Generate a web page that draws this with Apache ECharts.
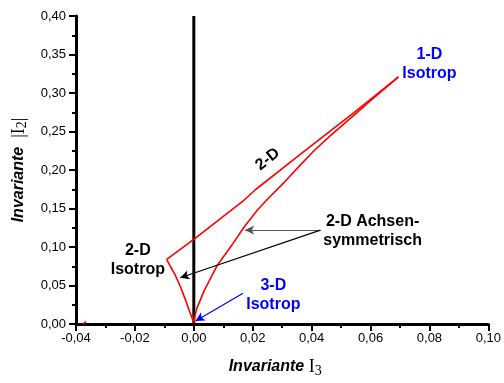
<!DOCTYPE html>
<html>
<head>
<meta charset="utf-8">
<script src="https://cdn.jsdelivr.net/npm/echarts@6/dist/echarts.min.js"></script>
<style>
  html, body { margin: 0; padding: 0; background: #fff; }
  #chart { width: 504px; height: 383px; }
</style>
</head>
<body>
<div id="chart"></div>
<script>
// two-component limit, 2-D isotropic -> 1-D isotropic
const upperLimit = [[-0.0092, 0.084], [0.0, 0.110], [0.0171, 0.161], [0.0211, 0.175], [0.0357, 0.219], [0.0549, 0.276], [0.0695, 0.321]]
// axisymmetric, I3 > 0
const rodCurve = [[0.0, 0.002], [0.0003, 0.009], [0.0010, 0.020], [0.0036, 0.044], [0.0081, 0.077], [0.0132, 0.104], [0.0171, 0.126],
  [0.0216, 0.148], [0.0250, 0.162], [0.0307, 0.184], [0.0363, 0.207], [0.0408, 0.225], [0.0459, 0.243],
  [0.0549, 0.273], [0.0600, 0.290], [0.0695, 0.321]]
// axisymmetric, I3 < 0
const diskCurve = [[-0.0092, 0.084], [-0.0080, 0.075], [-0.0065, 0.065], [-0.0046, 0.049], [-0.0030, 0.033],
  [-0.0014, 0.016], [-0.0004, 0.006], [0.0, 0.002]]
const zeroLine = [[0, 0], [0, 0.40]]
const stray = [[-0.0376, 0.0], [-0.0366, 0.003]]

// annotations: text, anchor [I3, I2]
const notes = [
  ['1-D\nIsotrop', [0.0800, 0.338], '#0000ff'],
  ['2-D\nIsotrop', [-0.0190, 0.083], '#000000'],
  ['3-D\nIsotrop', [0.0270, 0.038], '#0000ff'],
  ['2-D Achsen-\nsymmetrisch', [0.0607, 0.121], '#000000'],
]
// arrows: from, to, colour
const arrows = [
  [[0.0430, 0.122], [0.0174, 0.122], '#555555'],
  [[0.0430, 0.122], [-0.0046, 0.060], '#000000'],
  [[0.0167, 0.040], [0.0006, 0.004], '#0000ff'],
]

const fmt = v => v.toFixed(2).replace('.', ',')
const font = 'Liberation Sans, Arial, sans-serif'
const serif = 'Liberation Serif, Times New Roman, serif'

const chart = echarts.init(document.getElementById('chart'))

const redLine = (data) => ({
  type: 'line', data, symbol: 'none', silent: true,
  lineStyle: { color: '#ff0000', width: 1.6 },
})

const nameRich = {
  a: { fontFamily: font, fontWeight: 'bold', fontStyle: 'italic', fontSize: 16, color: '#000' },
  b: { fontFamily: serif, fontSize: 18, color: '#000' },
  c: { fontFamily: serif, fontSize: 14, color: '#000', padding: [8, 0, 0, 0] },
}

chart.setOption({
  animation: false,
  grid: { left: 76, right: 14, top: 16, bottom: 59 },
  xAxis: {
    type: 'value', min: -0.04, max: 0.10, interval: 0.02,
    name: '{a|Invariante }{b|I}{c|3}',
    nameLocation: 'middle', nameGap: 32,
    nameTextStyle: { padding: [0, 14, 0, 0], rich: nameRich },
    axisLine: { onZero: false, lineStyle: { color: '#000', width: 3 } },
    axisTick: { length: 7, lineStyle: { width: 2, color: '#000' } },
    minorTick: { show: true, splitNumber: 2, length: 4, lineStyle: { width: 2, color: '#000' } },
    splitLine: { show: false },
    axisLabel: { formatter: fmt, margin: 8, fontFamily: font, fontSize: 13, color: '#000' },
  },
  yAxis: {
    type: 'value', min: 0, max: 0.40, interval: 0.05,
    name: '{a|Invariante  }{b||I}{c|2}{b||}',
    nameLocation: 'middle', nameGap: 43, nameRotate: 90,
    nameTextStyle: { rich: nameRich },
    axisLine: { onZero: false, lineStyle: { color: '#000', width: 3 } },
    axisTick: { length: 7, lineStyle: { width: 2, color: '#000' } },
    minorTick: { show: true, splitNumber: 2, length: 4, lineStyle: { width: 2, color: '#000' } },
    splitLine: { show: false },
    axisLabel: { formatter: fmt, margin: 10, fontFamily: font, fontSize: 13, color: '#000' },
  },
  series: [
    {
      type: 'line', data: zeroLine, symbol: 'none', silent: true,
      lineStyle: { color: '#000', width: 3 },
      markLine: {
        silent: true, animation: false,
        symbol: ['none', 'arrow'], symbolSize: [7, 9],
        label: { show: false },
        data: arrows.map(a => [
          { coord: a[0], lineStyle: { color: a[2], width: 1.2, type: 'solid' } },
          { coord: a[1] },
        ]),
      },
    },
    redLine(upperLimit),
    redLine(rodCurve),
    redLine(diskCurve),
    redLine(stray),
    {
      type: 'scatter', silent: true, symbolSize: 1,
      itemStyle: { color: 'rgba(0,0,0,0)', opacity: 1 },
      data: notes.map(n => ({
        value: n[1],
        label: {
          show: true, position: 'inside', formatter: n[0], align: 'center',
          fontFamily: font, fontWeight: 'bold', fontSize: 16, lineHeight: 19, color: n[2],
          textBorderWidth: 0,
        },
      })).concat([{
        value: [0.0251, 0.214],
        label: {
          show: true, position: 'inside', formatter: '2-D', rotate: 38,
          fontFamily: font, fontWeight: 'bold', fontSize: 16, color: '#000', textBorderWidth: 0,
        },
      }]),
    },
  ],
})
</script>
</body>
</html>
